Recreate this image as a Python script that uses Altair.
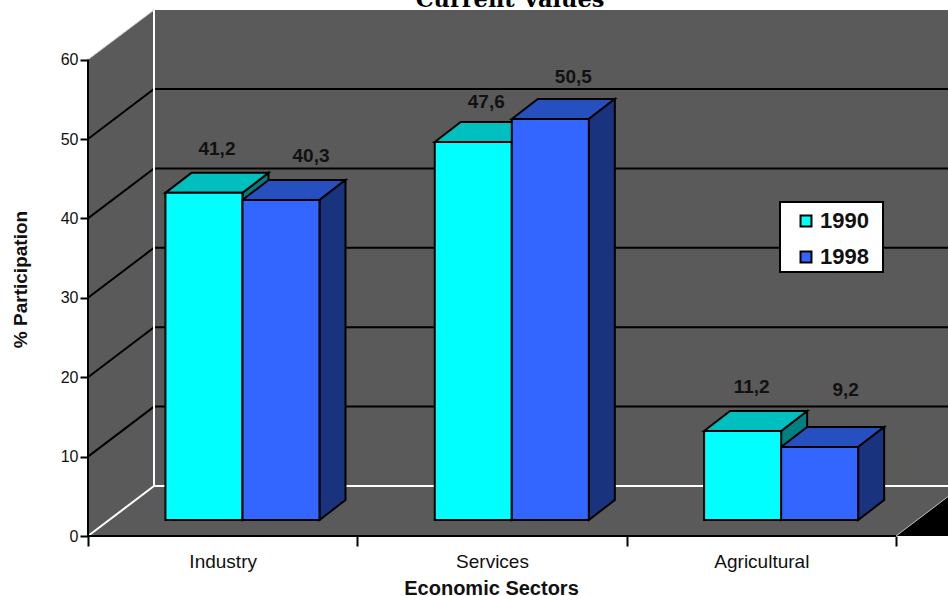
import altair as alt
import pandas as pd

# Chart content
categories = ["Industry", "Services", "Agricultural"]
values_1990 = [41.2, 47.6, 11.2]
values_1998 = [40.3, 50.5, 9.2]
series_names = ["1990", "1998"]
y_ticks = [0, 10, 20, 30, 40, 50, 60]
grid_levels = [10, 20, 30, 40, 50]
title_text = "Current Values"

# Plot geometry: one category slot and one value unit in pixels
PLOT_W, PLOT_H = 860, 526
SLOT_PX = 808 / 3
UNIT_PX = 7.94
X_MAX = PLOT_W / SLOT_PX
Y_MAX = PLOT_H / UNIT_PX

# Oblique projection of the room and the bars
ROOM_DX, ROOM_DY = 66 / SLOT_PX, 50 / UNIT_PX
BAR_DX, BAR_DY = 26 / SLOT_PX, 20 / UNIT_PX
BAR_BASE = 16 / UNIT_PX
BAR_START, BAR_W = 0.2875, 0.286
TOP_V = min(60 + ROOM_DY, Y_MAX)
X_END = len(categories)

COLORS = {
    "1990": {"front": "#00ffff", "top": "#00bfbf", "side": "#008080"},
    "1998": {"front": "#3366ff", "top": "#264fbf", "side": "#19337f"},
}
# Hand placement of the value labels, in pixels, (dx, dy) per series and category
LABEL_NUDGE = {
    "1990": [(0, -24), (0, -20), (-4, -24)],
    "1998": [(17, -24), (10, -22), (13, -37)],
}

x_scale = alt.Scale(domain=[0, X_MAX], range=[0, PLOT_W], nice=False, zero=False)
y_scale = alt.Scale(domain=[0, Y_MAX], range=[PLOT_H, 0], nice=False, zero=False)

x_axis = alt.Axis(
    values=[0, 0.5, 1, 1.5, 2, 2.5, 3],
    labelExpr="datum.value % 1 == 0 ? '' : ['" + "','".join(categories) + "'][floor(datum.value)]",
    tickOpacity={"condition": {"test": "datum.value % 1 == 0", "value": 1}, "value": 0},
    tickSize=10, tickWidth=2, tickColor="black", domain=False, grid=False,
    labelFont="Liberation Sans", labelFontSize=19, labelColor="#111111",
    labelPadding=6, labelOverlap=False, labelFlush=False,
    title="Economic Sectors", titleFont="Liberation Sans", titleFontSize=20,
    titleFontWeight="bold", titleColor="#111111", titleX=403, titleY=58,
    titleAlign="center", titleBaseline="alphabetic",
)
y_axis = alt.Axis(
    values=y_ticks, tickSize=8, tickWidth=2, tickColor="black", domain=False, grid=False,
    labelFont="Liberation Sans", labelFontSize=16, labelColor="#111111", labelPadding=2,
    labelOverlap=False, labelFlush=False,
    title="% Participation", titleFont="Liberation Sans", titleFontSize=19,
    titleFontWeight="bold", titleColor="#111111", titleX=-62, titleY=269,
    titleAlign="center", titleBaseline="alphabetic",
)


def X(field):
    return alt.X(f"{field}:Q", scale=x_scale, axis=x_axis)


def Y(field):
    return alt.Y(f"{field}:Q", scale=y_scale, axis=y_axis, stack=None)


Y2 = alt.Y2

# Rows describing the three visible faces of each bar
fronts, tops, sides, labels = [], [], [], []
for s_i, (name, vals) in enumerate(zip(series_names, [values_1990, values_1998])):
    for c_i, (cat, v) in enumerate(zip(categories, vals)):
        x0 = c_i + BAR_START + s_i * BAR_W
        x1 = x0 + BAR_W
        y0 = BAR_BASE
        y1 = BAR_BASE + v
        fronts.append(dict(series=name, cat=cat, x0=x0, x1=x1, y0=y0, y1=y1))
        for px, lo, hi in [
            (x0, y1, y1),
            (x0 + BAR_DX, y1, y1 + BAR_DY),
            (x1, y1, y1 + BAR_DY),
            (x1 + BAR_DX, y1 + BAR_DY, y1 + BAR_DY),
        ]:
            tops.append(dict(series=name, cat=cat, x=px, lo=lo, hi=hi))
        for px, lo, hi in [(x1, y0, y1), (x1 + BAR_DX, y0 + BAR_DY, y1 + BAR_DY)]:
            sides.append(dict(series=name, cat=cat, x=px, lo=lo, hi=hi))
        ndx, ndy = LABEL_NUDGE[name][c_i]
        labels.append(dict(
            series=name,
            x=(x0 + x1 + BAR_DX) / 2 + ndx / SLOT_PX,
            y=y1 + BAR_DY - ndy / UNIT_PX,
            text=f"{v}".replace(".", ","),
        ))
tops, sides = pd.DataFrame(tops), pd.DataFrame(sides)

# Grey silhouette of the side wall, floor and back wall
room = pd.DataFrame({
    "x": [0, ROOM_DX, X_END, X_MAX],
    "lo": [0, 0, 0, (X_MAX - X_END) * ROOM_DY / ROOM_DX],
    "hi": [60, TOP_V, TOP_V, TOP_V],
})
room_base = alt.Chart(room).mark_area(color="#5a5a5a", interpolate="linear").encode(
    x=X("x"), y=Y("hi"), y2=Y2("lo"),
)

# Corner where the floor stops short of the plot's right edge
corner = alt.Chart(room.tail(2).assign(hi=[0, room["lo"].iloc[-1]], lo=0)).mark_area(color="black").encode(
    x=X("x"), y=Y("hi"), y2=Y2("lo"),
)
corner_edge = alt.Chart(pd.DataFrame({"x": [X_END, X_MAX], "y": [0, room["lo"].iloc[-1]]})).mark_line(
    color="#bbbbbb", strokeWidth=1
).encode(x=X("x"), y=Y("y"))

# Gridlines wrap around the side wall and along the back wall
grid_rows = []
for level in grid_levels:
    grid_rows += [
        dict(level=level, x=0, y=level),
        dict(level=level, x=ROOM_DX, y=level + ROOM_DY),
        dict(level=level, x=X_MAX, y=level + ROOM_DY),
    ]
grid = alt.Chart(pd.DataFrame(grid_rows)).mark_line(color="black", strokeWidth=2).encode(
    x=X("x"), y=Y("y"), detail="level:N"
)

# White edges of the floor and the back corner
floor_rows = pd.DataFrame({"x": [0, ROOM_DX, X_MAX], "y": [0, ROOM_DY, ROOM_DY]})
floor_edge = alt.Chart(floor_rows).mark_line(color="white", strokeWidth=2).encode(x=X("x"), y=Y("y"))
back_corner = alt.Chart(pd.DataFrame({"x": [ROOM_DX], "y": [ROOM_DY], "y2": [TOP_V]})).mark_rule(
    color="white", strokeWidth=2
).encode(x=X("x"), y=Y("y"), y2=Y2("y2"))
wall_top = alt.Chart(pd.DataFrame({"x": [0, ROOM_DX], "y": [60, TOP_V]})).mark_line(
    color="#cccccc", strokeWidth=1
).encode(x=X("x"), y=Y("y"))

# Black axis lines
y_line = alt.Chart(pd.DataFrame({"x": [0], "y": [0], "y2": [60]})).mark_rule(
    color="black", strokeWidth=2
).encode(x=X("x"), y=Y("y"), y2=Y2("y2"))
x_line = alt.Chart(pd.DataFrame({"x": [0], "x2": [X_END], "y": [0]})).mark_rule(
    color="black", strokeWidth=2
).encode(x=X("x"), x2=alt.X2("x2"), y=Y("y"))


def face(df, series, kind):
    return alt.Chart(df[df.series == series]).mark_area(
        color=COLORS[series][kind], stroke="black", strokeWidth=2, strokeJoin="miter"
    ).encode(x=X("x"), y=Y("hi"), y2=Y2("lo"), detail="cat:N")


# Front faces carry the colour scale that feeds the legend
front_faces = alt.Chart(pd.DataFrame(fronts)).mark_rect(stroke="black", strokeWidth=2).encode(
    x=X("x0"), x2=alt.X2("x1"), y=Y("y0"), y2=Y2("y1"),
    color=alt.Color(
        "series:N",
        scale=alt.Scale(domain=series_names, range=[COLORS[s]["front"] for s in series_names]),
        legend=alt.Legend(
            title=None, orient="none", legendX=692, legendY=194, padding=6,
            symbolType="square", symbolSize=120, symbolStrokeColor="black", symbolStrokeWidth=2,
            symbolOffset=9, labelOffset=3,
            labelFont="Liberation Sans", labelFontSize=22, labelFontWeight="bold",
            labelColor="#111111", rowPadding=14,
        ),
    ),
)

# White frame behind the legend entries
legend_frame = alt.Chart(pd.DataFrame({"frame": [0]})).mark_rect(
    fill="white", stroke="black", strokeWidth=2
).encode(x=alt.value(692), x2=alt.value(795), y=alt.value(192), y2=alt.value(262))

value_labels = alt.Chart(pd.DataFrame(labels)).mark_text(
    font="Liberation Sans", fontSize=19, fontWeight="bold", color="#111111", baseline="middle"
).encode(x=X("x"), y=Y("y"), text="text:N")

chart = alt.layer(
    room_base, corner, corner_edge, grid, floor_edge, back_corner, wall_top, y_line, x_line,
    face(sides, "1990", "side"), face(tops, "1990", "top"),
    face(tops, "1998", "top"), face(sides, "1998", "side"),
    front_faces, legend_frame, value_labels,
).properties(
    width=PLOT_W, height=PLOT_H,
    autosize=alt.AutoSizeParams(type="none"),
    padding={"left": 88, "top": 10, "right": 0, "bottom": 60},
    background="white",
    title=alt.TitleParams(
        title_text, font="DejaVu Serif", fontSize=22.5, fontWeight="bold", color="black",
        anchor="middle", dx=-8, offset=-3,
    ),
).configure_view(stroke=None)

chart.save("out.html", embed_options={"renderer": "svg", "actions": False})
